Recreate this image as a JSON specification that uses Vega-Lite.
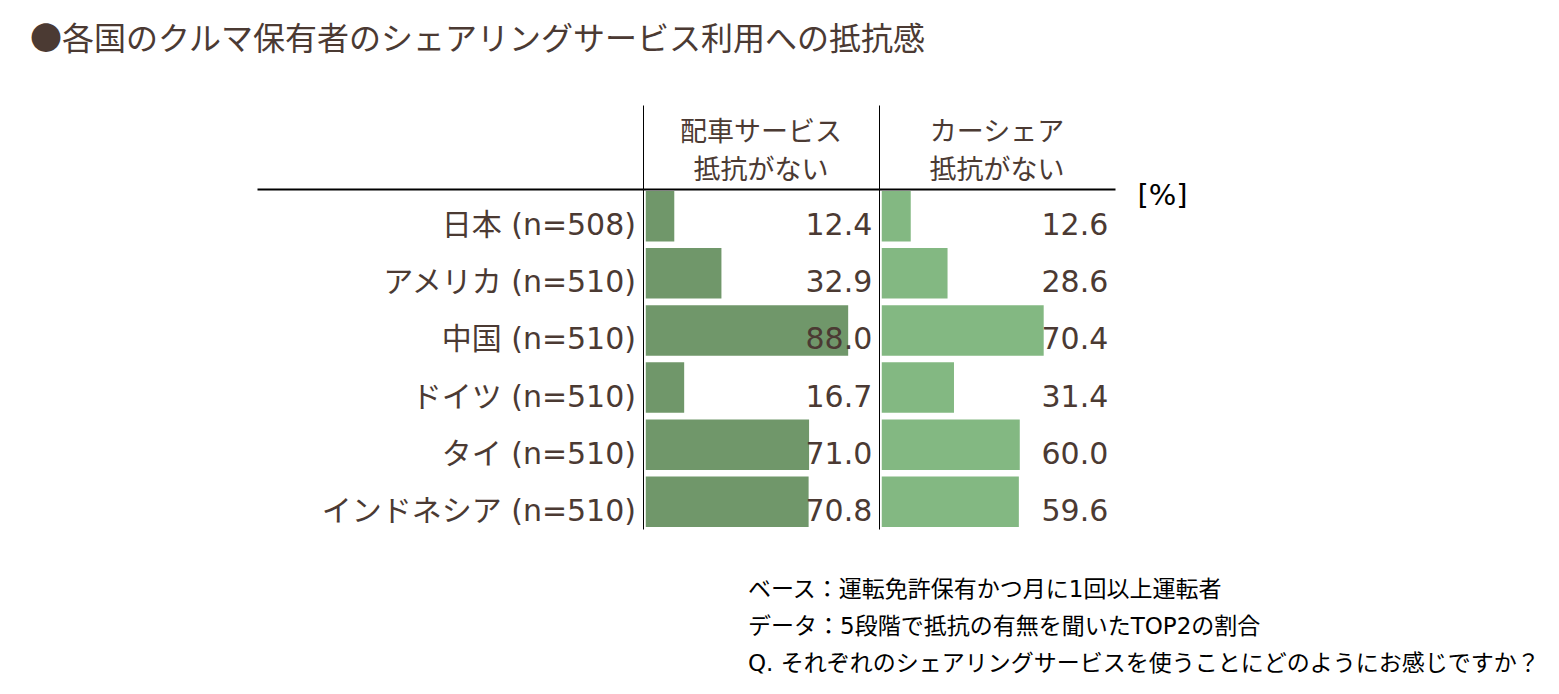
{
  "$schema": "https://vega.github.io/schema/vega-lite/v6.json",
  "padding": {"left": 30, "top": 24, "right": 10, "bottom": 5},
  "background": "white",
  "title": {
    "text": "●各国のクルマ保有者のシェアリングサービス利用への抵抗感",
    "anchor": "start",
    "dx": -227,
    "fontSize": 32,
    "font": "Noto Sans CJK JP",
    "fontWeight": "normal",
    "color": "#4b3a33",
    "offset": 48
  },
  "config": {
    "view": {"stroke": null},
    "font": "DejaVu Sans, Noto Sans CJK JP",
    "text": {"font": "DejaVu Sans, Noto Sans CJK JP"}
  },
  "datasets": {
    "rows": [
      {"country": "日本 (n=508)", "haisha": 12.4, "carshare": 12.6},
      {"country": "アメリカ (n=510)", "haisha": 32.9, "carshare": 28.6},
      {"country": "中国 (n=510)", "haisha": 88.0, "carshare": 70.4},
      {"country": "ドイツ (n=510)", "haisha": 16.7, "carshare": 31.4},
      {"country": "タイ (n=510)", "haisha": 71.0, "carshare": 60.0},
      {"country": "インドネシア (n=510)", "haisha": 70.8, "carshare": 59.6}
    ]
  },
  "columns": 3,
  "spacing": 0,
  "bounds": "flush",
  "concat": [
    {
      "width": 386,
      "height": 84,
      "data": {"values": [{"t": ""}]},
      "mark": {"type": "text"},
      "encoding": {"text": {"field": "t"}}
    },
    {
      "width": 236,
      "height": 84,
      "data": {"values": [{"t": "配車サービス\n抵抗がない", "h": "h"}]},
      "mark": {"type": "text", "lineBreak": "\n", "lineHeight": 38, "fontSize": 27, "color": "#4b3a33", "baseline": "middle", "dy": -14, "font": "Noto Sans CJK JP"},
      "encoding": {
        "text": {"field": "t"},
        "y": {"field": "h", "type": "nominal", "scale": {"type": "band", "paddingInner": 0, "paddingOuter": 0},
          "axis": {"orient": "left", "domain": true, "domainColor": "black", "domainWidth": 1, "labels": false, "ticks": false, "title": null, "grid": false}}
      }
    },
    {
      "width": 236,
      "height": 84,
      "data": {"values": [{"t": "カーシェア\n抵抗がない", "h": "h"}]},
      "mark": {"type": "text", "lineBreak": "\n", "lineHeight": 38, "fontSize": 27, "color": "#4b3a33", "baseline": "middle", "dy": -14, "font": "Noto Sans CJK JP"},
      "encoding": {
        "text": {"field": "t"},
        "y": {"field": "h", "type": "nominal", "scale": {"type": "band", "paddingInner": 0, "paddingOuter": 0},
          "axis": {"orient": "left", "domain": true, "domainColor": "black", "domainWidth": 1, "labels": false, "ticks": false, "title": null, "grid": false}}
      }
    },
    {
      "width": 386,
      "height": 340,
      "data": {"name": "rows"},
      "mark": {"type": "text", "align": "right", "baseline": "middle", "fontSize": 30, "color": "#4b3a33", "dx": -7, "dy": 10},
      "encoding": {
        "y": {"field": "country", "type": "nominal", "sort": null, "axis": null,
          "scale": {"type": "band", "paddingInner": 0.117, "paddingOuter": 0.035}},
        "x": {"datum": 1, "type": "quantitative", "scale": {"domain": [0, 1]},
          "axis": {"orient": "top", "domain": true, "domainWidth": 2, "domainColor": "black", "labels": false, "ticks": false, "grid": false, "title": null}},
        "text": {"field": "country"}
      }
    },
    {
      "width": 236,
      "height": 340,
      "data": {"name": "rows"},
      "layer": [
        {
          "mark": {"type": "bar", "color": "#70976a"},
          "encoding": {
            "y": {"field": "country", "type": "nominal", "sort": null,
              "scale": {"type": "band", "paddingInner": 0.117, "paddingOuter": 0.035},
              "axis": {"orient": "left", "domain": true, "domainColor": "black", "domainWidth": 1, "labels": false, "ticks": false, "title": null, "grid": false}},
            "x": {"field": "haisha", "type": "quantitative", "scale": {"domain": [-1.2, 101.4], "nice": false, "zero": false},
              "axis": {"orient": "top", "domain": true, "domainWidth": 2, "domainColor": "black", "labels": false, "ticks": false, "grid": false, "title": null}}
          }
        },
        {
          "mark": {"type": "text", "align": "right", "baseline": "middle", "fontSize": 30, "color": "#4b3a33", "dy": 10},
          "encoding": {
            "y": {"field": "country", "type": "nominal", "sort": null},
            "x": {"datum": 98.5, "type": "quantitative"},
            "text": {"field": "haisha", "type": "quantitative", "format": ".1f"}
          }
        }
      ]
    },
    {
      "width": 236,
      "height": 340,
      "data": {"name": "rows"},
      "layer": [
        {
          "mark": {"type": "bar", "color": "#83b882"},
          "encoding": {
            "y": {"field": "country", "type": "nominal", "sort": null,
              "scale": {"type": "band", "paddingInner": 0.117, "paddingOuter": 0.035},
              "axis": {"orient": "left", "domain": true, "domainColor": "black", "domainWidth": 1, "labels": false, "ticks": false, "title": null, "grid": false}},
            "x": {"field": "carshare", "type": "quantitative", "scale": {"domain": [-1.2, 101.4], "nice": false, "zero": false},
              "axis": {"orient": "top", "domain": true, "domainWidth": 2, "domainColor": "black", "labels": false, "ticks": false, "grid": false,
                "title": "[%]", "titleX": 258, "titleY": 6, "titleAlign": "left", "titleBaseline": "middle", "titleFontSize": 29, "titleFontWeight": "normal", "titleColor": "black", "titleFont": "DejaVu Sans"}}
          }
        },
        {
          "mark": {"type": "text", "align": "right", "baseline": "middle", "fontSize": 30, "color": "#4b3a33", "dy": 10},
          "encoding": {
            "y": {"field": "country", "type": "nominal", "sort": null},
            "x": {"datum": 98.5, "type": "quantitative"},
            "text": {"field": "carshare", "type": "quantitative", "format": ".1f"}
          }
        }
      ]
    },
    {
      "width": 386,
      "height": 150,
      "data": {"values": [{"t": "ベース：運転免許保有かつ月に1回以上運転者\nデータ：5段階で抵抗の有無を聞いたTOP2の割合\nQ. それぞれのシェアリングサービスを使うことにどのようにお感じですか？"}]},
      "mark": {"type": "text", "align": "left", "baseline": "middle", "lineBreak": "\n", "lineHeight": 37, "fontSize": 23, "color": "black", "dx": 298, "dy": -14},
      "encoding": {"text": {"field": "t"}}
    }
  ]
}
